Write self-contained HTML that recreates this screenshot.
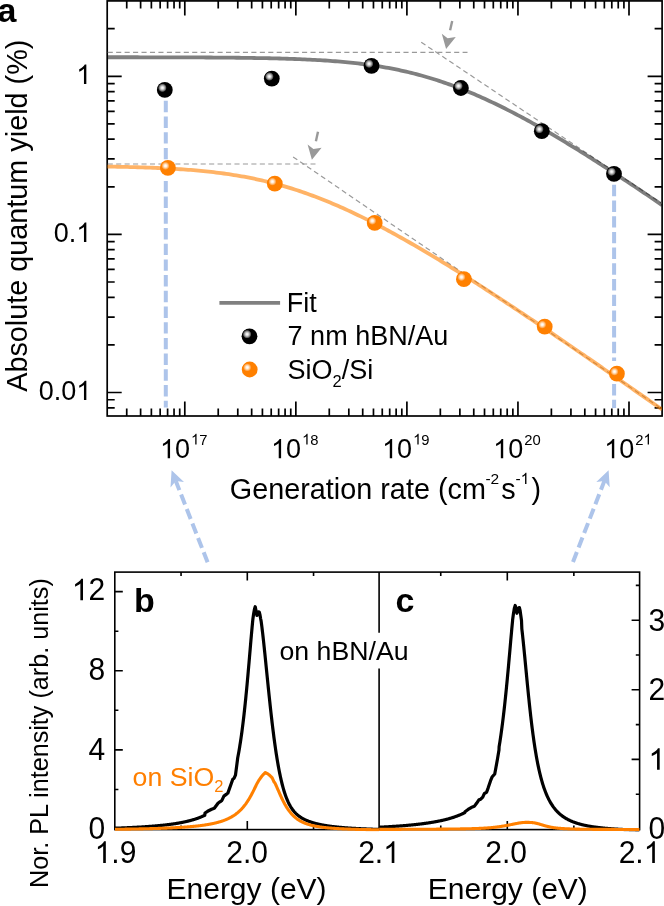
<!DOCTYPE html><html><head><meta charset="utf-8"><style>html,body{margin:0;padding:0;background:#fff;overflow:hidden}svg{display:block;will-change:transform}text{font-family:'Liberation Sans',sans-serif}</style></head><body>
<svg width="664" height="906" viewBox="0 0 664 906">
<defs>
<radialGradient id="hk" cx="0.5" cy="0.5" r="0.5">
<stop offset="0" stop-color="#ffffff"/><stop offset="0.25" stop-color="#e8e8e8"/><stop offset="0.55" stop-color="#a8a8a8"/><stop offset="0.8" stop-color="#5a5a5a"/><stop offset="1" stop-color="#000"/></radialGradient>
<radialGradient id="ho" cx="0.5" cy="0.5" r="0.5">
<stop offset="0" stop-color="#ffffff"/><stop offset="0.3" stop-color="#fff0e0"/><stop offset="0.6" stop-color="#ffc58a"/><stop offset="0.85" stop-color="#ff9a35"/><stop offset="1" stop-color="#ff8000"/></radialGradient>
</defs>
<rect width="664" height="906" fill="#fff"/>
<g stroke="#000" stroke-width="1.7" fill="none">
<rect x="107.2" y="0.9" width="554.9" height="415.1"/>
<path d="M126.73 416.00 V408.50 M126.73 0.90 V8.40 M140.61 416.00 V408.50 M140.61 0.90 V8.40 M151.37 416.00 V408.50 M151.37 0.90 V8.40 M160.16 416.00 V408.50 M160.16 0.90 V8.40 M167.60 416.00 V408.50 M167.60 0.90 V8.40 M174.04 416.00 V408.50 M174.04 0.90 V8.40 M179.72 416.00 V408.50 M179.72 0.90 V8.40 M184.80 416.00 V401.50 M184.80 0.90 V15.40 M218.23 416.00 V408.50 M218.23 0.90 V8.40 M237.78 416.00 V408.50 M237.78 0.90 V8.40 M251.66 416.00 V408.50 M251.66 0.90 V8.40 M262.42 416.00 V408.50 M262.42 0.90 V8.40 M271.21 416.00 V408.50 M271.21 0.90 V8.40 M278.65 416.00 V408.50 M278.65 0.90 V8.40 M285.09 416.00 V408.50 M285.09 0.90 V8.40 M290.77 416.00 V408.50 M290.77 0.90 V8.40 M295.85 416.00 V401.50 M295.85 0.90 V15.40 M329.28 416.00 V408.50 M329.28 0.90 V8.40 M348.83 416.00 V408.50 M348.83 0.90 V8.40 M362.71 416.00 V408.50 M362.71 0.90 V8.40 M373.47 416.00 V408.50 M373.47 0.90 V8.40 M382.26 416.00 V408.50 M382.26 0.90 V8.40 M389.70 416.00 V408.50 M389.70 0.90 V8.40 M396.14 416.00 V408.50 M396.14 0.90 V8.40 M401.82 416.00 V408.50 M401.82 0.90 V8.40 M406.90 416.00 V401.50 M406.90 0.90 V15.40 M440.33 416.00 V408.50 M440.33 0.90 V8.40 M459.88 416.00 V408.50 M459.88 0.90 V8.40 M473.76 416.00 V408.50 M473.76 0.90 V8.40 M484.52 416.00 V408.50 M484.52 0.90 V8.40 M493.31 416.00 V408.50 M493.31 0.90 V8.40 M500.75 416.00 V408.50 M500.75 0.90 V8.40 M507.19 416.00 V408.50 M507.19 0.90 V8.40 M512.87 416.00 V408.50 M512.87 0.90 V8.40 M517.95 416.00 V401.50 M517.95 0.90 V15.40 M551.38 416.00 V408.50 M551.38 0.90 V8.40 M570.93 416.00 V408.50 M570.93 0.90 V8.40 M584.81 416.00 V408.50 M584.81 0.90 V8.40 M595.57 416.00 V408.50 M595.57 0.90 V8.40 M604.36 416.00 V408.50 M604.36 0.90 V8.40 M611.80 416.00 V408.50 M611.80 0.90 V8.40 M618.24 416.00 V408.50 M618.24 0.90 V8.40 M623.92 416.00 V408.50 M623.92 0.90 V8.40 M629.00 416.00 V401.50 M629.00 0.90 V15.40 M107.20 407.82 H114.70 M662.10 407.82 H654.60 M107.20 399.73 H114.70 M662.10 399.73 H654.60 M107.20 392.50 H121.70 M662.10 392.50 H647.60 M107.20 344.91 H114.70 M662.10 344.91 H654.60 M107.20 317.07 H114.70 M662.10 317.07 H654.60 M107.20 297.31 H114.70 M662.10 297.31 H654.60 M107.20 281.99 H114.70 M662.10 281.99 H654.60 M107.20 269.47 H114.70 M662.10 269.47 H654.60 M107.20 258.89 H114.70 M662.10 258.89 H654.60 M107.20 249.72 H114.70 M662.10 249.72 H654.60 M107.20 241.63 H114.70 M662.10 241.63 H654.60 M107.20 234.40 H121.70 M662.10 234.40 H647.60 M107.20 186.81 H114.70 M662.10 186.81 H654.60 M107.20 158.97 H114.70 M662.10 158.97 H654.60 M107.20 139.21 H114.70 M662.10 139.21 H654.60 M107.20 123.89 H114.70 M662.10 123.89 H654.60 M107.20 111.37 H114.70 M662.10 111.37 H654.60 M107.20 100.79 H114.70 M662.10 100.79 H654.60 M107.20 91.62 H114.70 M662.10 91.62 H654.60 M107.20 83.53 H114.70 M662.10 83.53 H654.60 M107.20 76.30 H121.70 M662.10 76.30 H647.60 M107.20 28.71 H114.70 M662.10 28.71 H654.60"/>
</g>
<clipPath id="ca"><rect x="107.2" y="0.9" width="554.9" height="415.1"/></clipPath>
<g clip-path="url(#ca)">
<g stroke="#9a9a9a" stroke-width="1.2" stroke-dasharray="5.1 3.35" stroke-dashoffset="-0.5" fill="none">
<path d="M107.2 52.3 L467.5 52.3"/>
<path d="M420.8 41.9 L662 203.6"/>
<path d="M107.2 164.0 L315.5 164.0"/>
<path d="M292.7 156.6 L662 409.0"/>
</g>
<path d="M107.20 166.55 L109.73 166.59 L112.27 166.64 L114.80 166.69 L117.34 166.74 L119.87 166.79 L122.40 166.84 L124.94 166.90 L127.47 166.96 L130.00 167.03 L132.54 167.09 L135.07 167.16 L137.61 167.24 L140.14 167.32 L142.67 167.40 L145.21 167.48 L147.74 167.57 L150.27 167.67 L152.81 167.77 L155.34 167.87 L157.88 167.98 L160.41 168.09 L162.94 168.22 L165.48 168.34 L168.01 168.47 L170.54 168.61 L173.08 168.76 L175.61 168.91 L178.15 169.07 L180.68 169.23 L183.21 169.41 L185.75 169.59 L188.28 169.78 L190.82 169.98 L193.35 170.19 L195.88 170.41 L198.42 170.63 L200.95 170.87 L203.48 171.12 L206.02 171.37 L208.55 171.64 L211.09 171.92 L213.62 172.21 L216.15 172.52 L218.69 172.83 L221.22 173.16 L223.75 173.50 L226.29 173.86 L228.82 174.23 L231.36 174.61 L233.89 175.01 L236.42 175.42 L238.96 175.84 L241.49 176.28 L244.02 176.74 L246.56 177.21 L249.09 177.70 L251.63 178.21 L254.16 178.73 L256.69 179.27 L259.23 179.82 L261.76 180.40 L264.29 180.99 L266.83 181.59 L269.36 182.22 L271.90 182.86 L274.43 183.52 L276.96 184.20 L279.50 184.90 L282.03 185.61 L284.57 186.34 L287.10 187.10 L289.63 187.86 L292.17 188.65 L294.70 189.46 L297.23 190.28 L299.77 191.12 L302.30 191.98 L304.84 192.86 L307.37 193.76 L309.90 194.67 L312.44 195.60 L314.97 196.55 L317.50 197.52 L320.04 198.50 L322.57 199.50 L325.11 200.52 L327.64 201.55 L330.17 202.60 L332.71 203.67 L335.24 204.75 L337.77 205.85 L340.31 206.96 L342.84 208.09 L345.38 209.23 L347.91 210.39 L350.44 211.56 L352.98 212.75 L355.51 213.95 L358.05 215.17 L360.58 216.40 L363.11 217.64 L365.65 218.90 L368.18 220.17 L370.71 221.45 L373.25 222.74 L375.78 224.05 L378.32 225.36 L380.85 226.69 L383.38 228.04 L385.92 229.39 L388.45 230.75 L390.98 232.13 L393.52 233.51 L396.05 234.90 L398.59 236.31 L401.12 237.72 L403.65 239.15 L406.19 240.58 L408.72 242.02 L411.25 243.48 L413.79 244.94 L416.32 246.41 L418.86 247.88 L421.39 249.37 L423.92 250.86 L426.46 252.36 L428.99 253.87 L431.53 255.39 L434.06 256.91 L436.59 258.44 L439.13 259.98 L441.66 261.52 L444.19 263.08 L446.73 264.63 L449.26 266.20 L451.80 267.77 L454.33 269.34 L456.86 270.92 L459.40 272.51 L461.93 274.10 L464.46 275.70 L467.00 277.30 L469.53 278.91 L472.07 280.52 L474.60 282.14 L477.13 283.76 L479.67 285.39 L482.20 287.02 L484.73 288.66 L487.27 290.30 L489.80 291.94 L492.34 293.59 L494.87 295.25 L497.40 296.90 L499.94 298.56 L502.47 300.23 L505.01 301.89 L507.54 303.57 L510.07 305.24 L512.61 306.92 L515.14 308.60 L517.67 310.28 L520.21 311.97 L522.74 313.66 L525.28 315.35 L527.81 317.05 L530.34 318.75 L532.88 320.45 L535.41 322.15 L537.94 323.86 L540.48 325.57 L543.01 327.28 L545.55 328.99 L548.08 330.71 L550.61 332.43 L553.15 334.15 L555.68 335.87 L558.21 337.59 L560.75 339.32 L563.28 341.05 L565.82 342.78 L568.35 344.51 L570.88 346.25 L573.42 347.98 L575.95 349.72 L578.48 351.46 L581.02 353.20 L583.55 354.94 L586.09 356.69 L588.62 358.43 L591.15 360.18 L593.69 361.93 L596.22 363.68 L598.76 365.43 L601.29 367.18 L603.82 368.94 L606.36 370.69 L608.89 372.45 L611.42 374.20 L613.96 375.96 L616.49 377.72 L619.03 379.48 L621.56 381.25 L624.09 383.01 L626.63 384.77 L629.16 386.54 L631.69 388.30 L634.23 390.07 L636.76 391.84 L639.30 393.61 L641.83 395.38 L644.36 397.15 L646.90 398.92 L649.43 400.69 L651.96 402.46 L654.50 404.24 L657.03 406.01 L659.57 407.79 L662.10 409.56" fill="none" stroke="#ff8000" stroke-opacity="0.6" stroke-width="3.8"/>
<path d="M107.20 57.24 L109.73 57.24 L112.27 57.25 L114.80 57.25 L117.34 57.25 L119.87 57.25 L122.40 57.25 L124.94 57.26 L127.47 57.26 L130.00 57.26 L132.54 57.27 L135.07 57.27 L137.61 57.27 L140.14 57.28 L142.67 57.28 L145.21 57.28 L147.74 57.29 L150.27 57.29 L152.81 57.30 L155.34 57.30 L157.88 57.31 L160.41 57.31 L162.94 57.32 L165.48 57.33 L168.01 57.33 L170.54 57.34 L173.08 57.35 L175.61 57.36 L178.15 57.36 L180.68 57.37 L183.21 57.38 L185.75 57.39 L188.28 57.40 L190.82 57.41 L193.35 57.42 L195.88 57.43 L198.42 57.45 L200.95 57.46 L203.48 57.47 L206.02 57.49 L208.55 57.50 L211.09 57.52 L213.62 57.54 L216.15 57.56 L218.69 57.58 L221.22 57.60 L223.75 57.62 L226.29 57.64 L228.82 57.66 L231.36 57.69 L233.89 57.72 L236.42 57.74 L238.96 57.77 L241.49 57.80 L244.02 57.84 L246.56 57.87 L249.09 57.91 L251.63 57.94 L254.16 57.98 L256.69 58.03 L259.23 58.07 L261.76 58.12 L264.29 58.17 L266.83 58.22 L269.36 58.27 L271.90 58.33 L274.43 58.39 L276.96 58.45 L279.50 58.52 L282.03 58.59 L284.57 58.67 L287.10 58.74 L289.63 58.83 L292.17 58.91 L294.70 59.00 L297.23 59.10 L299.77 59.20 L302.30 59.30 L304.84 59.41 L307.37 59.53 L309.90 59.65 L312.44 59.78 L314.97 59.91 L317.50 60.05 L320.04 60.20 L322.57 60.35 L325.11 60.52 L327.64 60.69 L330.17 60.86 L332.71 61.05 L335.24 61.24 L337.77 61.45 L340.31 61.66 L342.84 61.88 L345.38 62.12 L347.91 62.36 L350.44 62.62 L352.98 62.88 L355.51 63.16 L358.05 63.45 L360.58 63.75 L363.11 64.06 L365.65 64.39 L368.18 64.73 L370.71 65.08 L373.25 65.45 L375.78 65.83 L378.32 66.23 L380.85 66.64 L383.38 67.07 L385.92 67.51 L388.45 67.97 L390.98 68.44 L393.52 68.94 L396.05 69.45 L398.59 69.97 L401.12 70.52 L403.65 71.08 L406.19 71.66 L408.72 72.25 L411.25 72.87 L413.79 73.50 L416.32 74.16 L418.86 74.83 L421.39 75.52 L423.92 76.23 L426.46 76.96 L428.99 77.70 L431.53 78.47 L434.06 79.25 L436.59 80.06 L439.13 80.88 L441.66 81.72 L444.19 82.59 L446.73 83.47 L449.26 84.36 L451.80 85.28 L454.33 86.22 L456.86 87.17 L459.40 88.15 L461.93 89.14 L464.46 90.15 L467.00 91.17 L469.53 92.22 L472.07 93.28 L474.60 94.36 L477.13 95.45 L479.67 96.56 L482.20 97.69 L484.73 98.84 L487.27 100.00 L489.80 101.17 L492.34 102.37 L494.87 103.57 L497.40 104.80 L499.94 106.03 L502.47 107.28 L505.01 108.55 L507.54 109.83 L510.07 111.12 L512.61 112.43 L515.14 113.75 L517.67 115.08 L520.21 116.42 L522.74 117.78 L525.28 119.15 L527.81 120.53 L530.34 121.92 L532.88 123.33 L535.41 124.74 L537.94 126.17 L540.48 127.60 L543.01 129.05 L545.55 130.50 L548.08 131.97 L550.61 133.45 L553.15 134.93 L555.68 136.43 L558.21 137.93 L560.75 139.44 L563.28 140.96 L565.82 142.49 L568.35 144.03 L570.88 145.57 L573.42 147.13 L575.95 148.69 L578.48 150.25 L581.02 151.83 L583.55 153.41 L586.09 155.00 L588.62 156.59 L591.15 158.20 L593.69 159.80 L596.22 161.42 L598.76 163.04 L601.29 164.66 L603.82 166.30 L606.36 167.93 L608.89 169.58 L611.42 171.22 L613.96 172.88 L616.49 174.54 L619.03 176.20 L621.56 177.87 L624.09 179.54 L626.63 181.22 L629.16 182.90 L631.69 184.58 L634.23 186.27 L636.76 187.97 L639.30 189.67 L641.83 191.37 L644.36 193.07 L646.90 194.78 L649.43 196.49 L651.96 198.21 L654.50 199.93 L657.03 201.65 L659.57 203.38 L662.10 205.11" fill="none" stroke="#000" stroke-opacity="0.5" stroke-width="3.8"/>
</g>
<g stroke="#adc4ea" stroke-width="4" stroke-dasharray="11.4 4.3" fill="none">
<path d="M165.8 100.8 L165.8 160"/>
<path d="M165.8 180.9 L165.8 407.4"/>
<path d="M614.1 184.8 L614.1 361"/>
<path d="M614.1 384.1 L614.1 408"/>
</g>
<g transform="translate(0.0 0.0)"><path d="M452.2 20.9 L450.1 30.3" stroke="#999" stroke-width="2.4" fill="none"/><path d="M446.1 48.9 L441.8 33.7 L447.6 38.2 L455.8 36.9 Z" fill="#999"/></g>
<g transform="translate(-134.2 110.9)"><path d="M452.2 20.9 L450.1 30.3" stroke="#999" stroke-width="2.4" fill="none"/><path d="M446.1 48.9 L441.8 33.7 L447.6 38.2 L455.8 36.9 Z" fill="#999"/></g>
<circle cx="164.8" cy="89.9" r="7.9" fill="#000"/><circle cx="162.4" cy="87.8" r="4.4" fill="url(#hk)"/>
<circle cx="271.8" cy="78.6" r="7.9" fill="#000"/><circle cx="269.4" cy="76.5" r="4.4" fill="url(#hk)"/>
<circle cx="371.5" cy="65.8" r="7.9" fill="#000"/><circle cx="369.1" cy="63.7" r="4.4" fill="url(#hk)"/>
<circle cx="460.9" cy="88.0" r="7.9" fill="#000"/><circle cx="458.5" cy="85.9" r="4.4" fill="url(#hk)"/>
<circle cx="541.8" cy="131.2" r="7.9" fill="#000"/><circle cx="539.4" cy="129.1" r="4.4" fill="url(#hk)"/>
<circle cx="614.0" cy="173.8" r="7.9" fill="#000"/><circle cx="611.6" cy="171.7" r="4.4" fill="url(#hk)"/>
<circle cx="167.9" cy="167.9" r="7.9" fill="#ff8000"/><circle cx="165.5" cy="165.8" r="4.1" fill="url(#ho)"/>
<circle cx="274.8" cy="183.7" r="7.9" fill="#ff8000"/><circle cx="272.4" cy="181.6" r="4.1" fill="url(#ho)"/>
<circle cx="374.7" cy="222.9" r="7.9" fill="#ff8000"/><circle cx="372.3" cy="220.8" r="4.1" fill="url(#ho)"/>
<circle cx="463.9" cy="279.2" r="7.9" fill="#ff8000"/><circle cx="461.5" cy="277.1" r="4.1" fill="url(#ho)"/>
<circle cx="544.7" cy="326.7" r="7.9" fill="#ff8000"/><circle cx="542.3" cy="324.6" r="4.1" fill="url(#ho)"/>
<circle cx="616.9" cy="373.7" r="7.9" fill="#ff8000"/><circle cx="614.5" cy="371.6" r="4.1" fill="url(#ho)"/>
<text transform="translate(91.30 83.90) scale(1 1.040)" font-size="27" text-anchor="end"> </text>
<text transform="translate(91.30 242.00) scale(1 1.040)" font-size="27" text-anchor="end">0. </text>
<text transform="translate(91.30 400.10) scale(1 1.040)" font-size="27" text-anchor="end">0.0 </text>
<text transform="translate(160.00 458.30) scale(1 1.040)" font-size="27"> 0<tspan font-size="14.8" dx="1.0" dy="-13.27"> 7</tspan></text>
<text transform="translate(271.05 458.30) scale(1 1.040)" font-size="27"> 0<tspan font-size="14.8" dx="1.0" dy="-13.27"> 8</tspan></text>
<text transform="translate(382.10 458.30) scale(1 1.040)" font-size="27"> 0<tspan font-size="14.8" dx="1.0" dy="-13.27"> 9</tspan></text>
<text transform="translate(493.15 458.30) scale(1 1.040)" font-size="27"> 0<tspan font-size="14.8" dx="1.0" dy="-13.27">20</tspan></text>
<text transform="translate(604.20 458.30) scale(1 1.040)" font-size="27"> 0<tspan font-size="14.8" dx="1.0" dy="-13.27">2 </tspan></text>
<text transform="translate(229.80 499.20) scale(1 1.000)" font-size="28.8">Generation rate (cm<tspan x="255.60" font-size="15.5" dy="-15.30">-2</tspan><tspan x="271.40" dy="15.30">s</tspan><tspan x="285.70" font-size="15.5" dy="-15.30">- </tspan><tspan x="301.80" dy="15.30">)</tspan></text>
<text transform="translate(27.0 391.8) rotate(-90)" font-size="28.8">Absolute quantum yield (%)</text>
<text transform="translate(-2.40 21.90) scale(1 1.000)" font-size="34" font-weight="bold">a</text>
<path d="M219.4 302.9 H280.1" stroke="#808080" stroke-width="3.6"/>
<circle cx="249.5" cy="336.3" r="7.9" fill="#000"/><circle cx="247.1" cy="334.2" r="4.4" fill="url(#hk)"/>
<circle cx="249.7" cy="369.5" r="7.9" fill="#ff8000"/><circle cx="247.3" cy="367.4" r="4.1" fill="url(#ho)"/>
<text transform="translate(286.80 312.00) scale(1 1.000)" font-size="27">Fit</text>
<text transform="translate(287.60 344.90) scale(1 1.000)" font-size="27">7 nm hBN/Au</text>
<text transform="translate(287.60 378.50) scale(1 1.000)" font-size="27">SiO<tspan font-size="16.5" dy="8.80">2</tspan><tspan dy="-8.80">/Si</tspan></text>
<path d="M207.6 562.3 L175.8 481.0" stroke="#adc4ea" stroke-width="4" stroke-dasharray="10.7 4.8" fill="none"/><path d="M171.6 470.3 L184.0 482.1 L175.8 481.0 L170.5 487.4 Z" fill="#adc4ea"/>
<path d="M573.0 562.0 L604.4 480.9" stroke="#adc4ea" stroke-width="4" stroke-dasharray="10.7 4.8" fill="none"/><path d="M608.6 470.2 L609.7 487.3 L604.4 480.9 L596.3 482.0 Z" fill="#adc4ea"/>
<g stroke="#000" stroke-width="1.6" fill="none">
<rect x="114.8" y="572.1" width="524.8" height="257.5"/>
<path d="M379.1 572.1 V632.7 M379.1 668.5 V829.6"/>
<path d="M181.05 829.60 V825.60 M181.05 572.10 V576.10 M440.75 829.60 V825.60 M440.75 572.10 V576.10 M247.30 829.60 V821.10 M247.30 572.10 V580.60 M507.30 829.60 V821.10 M507.30 572.10 V580.60 M313.55 829.60 V825.60 M313.55 572.10 V576.10 M573.85 829.60 V825.60 M573.85 572.10 V576.10 M114.80 789.44 H118.40 M114.80 749.88 H122.80 M114.80 710.32 H118.40 M114.80 670.76 H122.80 M114.80 631.20 H118.40 M114.80 591.64 H122.80 M639.60 794.20 H635.80 M639.60 759.40 H631.60 M639.60 724.60 H635.80 M639.60 689.80 H631.60 M639.60 655.00 H635.80 M639.60 620.20 H631.60 M639.60 585.40 H635.80"/>
</g>
<clipPath id="cb"><rect x="114.8" y="572.1" width="264.3" height="259.5"/></clipPath>
<clipPath id="cc"><rect x="379.1" y="572.1" width="260.5" height="259.5"/></clipPath>
<g clip-path="url(#cb)" fill="none" stroke-width="3.2" stroke-linejoin="round">
<path d="M114.80 828.22 L115.18 828.21 L115.56 828.19 L115.93 828.18 L116.31 828.17 L116.69 828.15 L117.07 828.14 L117.45 828.12 L117.82 828.11 L118.20 828.10 L118.58 828.08 L118.96 828.07 L119.34 828.05 L119.72 828.04 L120.09 828.02 L120.47 828.01 L120.85 827.99 L121.23 827.98 L121.61 827.96 L121.98 827.95 L122.36 827.93 L122.74 827.92 L123.12 827.90 L123.50 827.88 L123.87 827.87 L124.25 827.85 L124.63 827.84 L125.01 827.82 L125.39 827.80 L125.77 827.79 L126.14 827.77 L126.52 827.75 L126.90 827.74 L127.28 827.72 L127.66 827.70 L128.03 827.69 L128.41 827.67 L128.79 827.65 L129.17 827.63 L129.55 827.61 L129.92 827.60 L130.30 827.58 L130.68 827.56 L131.06 827.54 L131.44 827.52 L131.82 827.50 L132.19 827.49 L132.57 827.47 L132.95 827.45 L133.33 827.43 L133.71 827.41 L134.08 827.39 L134.46 827.37 L134.84 827.35 L135.22 827.33 L135.60 827.31 L135.97 827.29 L136.35 827.27 L136.73 827.25 L137.11 827.22 L137.49 827.20 L137.86 827.18 L138.24 827.16 L138.62 827.14 L139.00 827.12 L139.38 827.09 L139.76 827.07 L140.13 827.05 L140.51 827.03 L140.89 827.00 L141.27 826.98 L141.65 826.96 L142.02 826.93 L142.40 826.91 L142.78 826.88 L143.16 826.86 L143.54 826.84 L143.91 826.81 L144.29 826.79 L144.67 826.76 L145.05 826.74 L145.43 826.71 L145.81 826.68 L146.18 826.66 L146.56 826.63 L146.94 826.61 L147.32 826.58 L147.70 826.55 L148.07 826.52 L148.45 826.50 L148.83 826.47 L149.21 826.44 L149.59 826.41 L149.96 826.38 L150.34 826.36 L150.72 826.33 L151.10 826.30 L151.48 826.27 L151.85 826.24 L152.23 826.21 L152.61 826.18 L152.99 826.14 L153.37 826.11 L153.75 826.08 L154.12 826.05 L154.50 826.02 L154.88 825.99 L155.26 825.95 L155.64 825.92 L156.01 825.89 L156.39 825.85 L156.77 825.82 L157.15 825.78 L157.53 825.75 L157.90 825.71 L158.28 825.68 L158.66 825.64 L159.04 825.61 L159.42 825.57 L159.80 825.53 L160.17 825.50 L160.55 825.46 L160.93 825.42 L161.31 825.38 L161.69 825.34 L162.06 825.30 L162.44 825.26 L162.82 825.22 L163.20 825.18 L163.58 825.14 L163.95 825.10 L164.33 825.06 L164.71 825.01 L165.09 824.97 L165.47 824.93 L165.85 824.88 L166.22 824.84 L166.60 824.80 L166.98 824.75 L167.36 824.70 L167.74 824.66 L168.11 824.61 L168.49 824.56 L168.87 824.52 L169.25 824.47 L169.63 824.42 L170.00 824.37 L170.38 824.32 L170.76 824.27 L171.14 824.22 L171.52 824.16 L171.89 824.11 L172.27 824.06 L172.65 824.00 L173.03 823.95 L173.41 823.89 L173.79 823.84 L174.16 823.78 L174.54 823.72 L174.92 823.67 L175.30 823.61 L175.68 823.55 L176.05 823.49 L176.43 823.43 L176.81 823.37 L177.19 823.30 L177.57 823.24 L177.94 823.18 L178.32 823.11 L178.70 823.05 L179.08 822.98 L179.46 822.91 L179.84 822.84 L180.21 822.77 L180.59 822.70 L180.97 822.63 L181.35 822.56 L181.73 822.49 L182.10 822.42 L182.48 822.34 L182.86 822.26 L183.24 822.19 L183.62 822.11 L183.99 822.03 L184.37 821.95 L184.75 821.87 L185.13 821.79 L185.51 821.71 L185.88 821.62 L186.26 821.54 L186.64 821.45 L187.02 821.36 L187.40 821.27 L187.78 821.18 L188.15 821.09 L188.53 821.00 L188.91 820.90 L189.29 820.80 L189.67 820.71 L190.04 820.61 L190.42 820.51 L190.80 820.41 L191.18 820.30 L191.56 820.20 L191.93 820.09 L192.31 819.98 L192.69 819.87 L193.07 819.76 L193.45 819.65 L193.83 819.54 L194.20 819.42 L194.58 819.30 L194.96 819.18 L195.34 819.06 L195.72 818.93 L196.09 818.81 L196.47 818.68 L196.85 818.55 L197.23 818.42 L197.61 818.28 L197.98 818.15 L198.36 818.01 L198.74 817.87 L199.12 817.72 L199.50 817.58 L199.88 817.43 L200.25 817.28 L200.63 817.12 L201.01 816.97 L201.39 816.81 L201.77 816.65 L202.14 816.48 L202.52 816.31 L202.90 816.14 L203.28 815.97 L203.66 815.79 L204.03 815.61 L204.41 815.43 L204.79 815.24 L205.00 813.00 L207.60 811.30 L211.60 809.30 L214.30 808.30 L218.20 803.00 L220.20 801.70 L221.90 800.40 L223.90 796.10 L226.20 794.40 L227.85 793.10 L232.80 779.20 L234.14 778.20 L235.46 775.20 L237.45 760.00 L237.69 758.03 L238.06 756.06 L238.44 754.02 L238.82 751.91 L239.20 749.72 L239.58 747.46 L239.95 745.12 L240.33 742.70 L240.71 740.20 L241.09 737.61 L241.47 734.94 L241.85 732.18 L242.22 729.34 L242.60 726.40 L242.98 723.37 L243.36 720.24 L243.74 717.02 L244.11 713.71 L244.49 710.30 L244.87 706.79 L245.25 703.19 L245.63 699.50 L246.00 695.71 L246.38 691.84 L246.76 687.87 L247.14 683.82 L247.52 679.70 L247.90 675.50 L248.27 671.23 L248.65 666.91 L249.03 662.54 L249.41 658.14 L249.79 653.71 L250.16 649.28 L250.54 644.86 L250.92 640.47 L251.30 636.14 L251.68 631.89 L252.05 627.76 L252.43 623.76 L252.81 619.95 L252.90 619.00 L253.60 614.00 L254.40 609.50 L255.20 606.70 L256.00 610.50 L256.90 615.50 L257.80 613.50 L258.60 611.80 L259.30 612.20 L260.00 615.00 L260.70 619.00 L261.13 621.14 L261.51 623.95 L261.89 626.90 L262.26 629.98 L262.64 633.17 L263.02 636.47 L263.40 639.86 L263.78 643.34 L264.15 646.88 L264.53 650.49 L264.91 654.15 L265.29 657.84 L265.67 661.57 L266.04 665.31 L266.42 669.07 L266.80 672.83 L267.18 676.59 L267.56 680.33 L267.94 684.06 L268.31 687.76 L268.69 691.44 L269.07 695.08 L269.45 698.68 L269.83 702.24 L270.20 705.75 L270.58 709.22 L270.96 712.62 L271.34 715.98 L271.72 719.27 L272.09 722.50 L272.47 725.67 L272.85 728.77 L273.23 731.81 L273.61 734.79 L273.98 737.69 L274.36 740.53 L274.74 743.30 L275.12 746.00 L275.50 748.63 L275.88 751.19 L276.25 753.68 L276.63 756.11 L277.01 758.46 L277.39 760.75 L277.77 762.97 L278.14 765.13 L278.52 767.22 L278.90 769.24 L279.28 771.21 L279.66 773.10 L280.03 774.94 L280.41 776.72 L280.79 778.44 L281.17 780.10 L281.55 781.70 L281.93 783.25 L282.30 784.74 L282.68 786.18 L283.06 787.57 L283.44 788.91 L283.82 790.20 L284.19 791.45 L284.57 792.64 L284.95 793.80 L285.33 794.91 L285.71 795.98 L286.08 797.00 L286.46 797.99 L286.84 798.94 L287.22 799.86 L287.60 800.74 L287.98 801.58 L288.35 802.40 L288.73 803.18 L289.11 803.93 L289.49 804.65 L289.87 805.35 L290.24 806.02 L290.62 806.66 L291.00 807.28 L291.38 807.87 L291.76 808.44 L292.13 808.99 L292.51 809.52 L292.89 810.03 L293.27 810.52 L293.65 810.99 L294.02 811.45 L294.40 811.88 L294.78 812.31 L295.16 812.71 L295.54 813.11 L295.92 813.49 L296.29 813.85 L296.67 814.20 L297.05 814.55 L297.43 814.87 L297.81 815.19 L298.18 815.50 L298.56 815.80 L298.94 816.09 L299.32 816.37 L299.70 816.64 L300.07 816.90 L300.45 817.16 L300.83 817.40 L301.21 817.64 L301.59 817.88 L301.97 818.10 L302.34 818.32 L302.72 818.54 L303.10 818.75 L303.48 818.95 L303.86 819.15 L304.23 819.34 L304.61 819.52 L304.99 819.71 L305.37 819.88 L305.75 820.06 L306.12 820.23 L306.50 820.39 L306.88 820.55 L307.26 820.71 L307.64 820.86 L308.02 821.01 L308.39 821.16 L308.77 821.31 L309.15 821.45 L309.53 821.58 L309.91 821.72 L310.28 821.85 L310.66 821.98 L311.04 822.10 L311.42 822.23 L311.80 822.35 L312.17 822.47 L312.55 822.58 L312.93 822.70 L313.31 822.81 L313.69 822.92 L314.06 823.03 L314.44 823.13 L314.82 823.24 L315.20 823.34 L315.58 823.44 L315.96 823.53 L316.33 823.63 L316.71 823.72 L317.09 823.82 L317.47 823.91 L317.85 824.00 L318.22 824.08 L318.60 824.17 L318.98 824.25 L319.36 824.34 L319.74 824.42 L320.11 824.50 L320.49 824.58 L320.87 824.65 L321.25 824.73 L321.63 824.81 L322.01 824.88 L322.38 824.95 L322.76 825.02 L323.14 825.09 L323.52 825.16 L323.90 825.23 L324.27 825.29 L324.65 825.36 L325.03 825.42 L325.41 825.49 L325.79 825.55 L326.16 825.61 L326.54 825.67 L326.92 825.73 L327.30 825.79 L327.68 825.85 L328.05 825.90 L328.43 825.96 L328.81 826.02 L329.19 826.07 L329.57 826.12 L329.95 826.17 L330.32 826.23 L330.70 826.28 L331.08 826.33 L331.46 826.38 L331.84 826.43 L332.21 826.47 L332.59 826.52 L332.97 826.57 L333.35 826.61 L333.73 826.66 L334.10 826.70 L334.48 826.75 L334.86 826.79 L335.24 826.83 L335.62 826.88 L336.00 826.92 L336.37 826.96 L336.75 827.00 L337.13 827.04 L337.51 827.08 L337.89 827.12 L338.26 827.15 L338.64 827.19 L339.02 827.23 L339.40 827.26 L339.78 827.30 L340.15 827.34 L340.53 827.37 L340.91 827.41 L341.29 827.44 L341.67 827.47 L342.05 827.51 L342.42 827.54 L342.80 827.57 L343.18 827.60 L343.56 827.64 L343.94 827.67 L344.31 827.70 L344.69 827.73 L345.07 827.76 L345.45 827.79 L345.83 827.82 L346.20 827.85 L346.58 827.88 L346.96 827.90 L347.34 827.93 L347.72 827.96 L348.09 827.99 L348.47 828.01 L348.85 828.04 L349.23 828.06 L349.61 828.09 L349.99 828.12 L350.36 828.14 L350.74 828.17 L351.12 828.19 L351.50 828.22 L351.88 828.24 L352.25 828.26 L352.63 828.29 L353.01 828.31 L353.39 828.33 L353.77 828.35 L354.14 828.38 L354.52 828.40 L354.90 828.42 L355.28 828.44 L355.66 828.46 L356.04 828.49 L356.41 828.51 L356.79 828.53 L357.17 828.55 L357.55 828.57 L357.93 828.59 L358.30 828.61 L358.68 828.63 L359.06 828.65 L359.44 828.66 L359.82 828.68 L360.19 828.70 L360.57 828.72 L360.95 828.74 L361.33 828.76 L361.71 828.77 L362.08 828.79 L362.46 828.81 L362.84 828.83 L363.22 828.84 L363.60 828.86 L363.98 828.88 L364.35 828.89 L364.73 828.91 L365.11 828.93 L365.49 828.94 L365.87 828.96 L366.24 828.97 L366.62 828.99 L367.00 829.00 L367.38 829.02 L367.76 829.03 L368.13 829.05 L368.51 829.06 L368.89 829.08 L369.27 829.09 L369.65 829.11 L370.03 829.12 L370.40 829.14 L370.78 829.15 L371.16 829.16 L371.54 829.18 L371.92 829.19 L372.29 829.20 L372.67 829.22 L373.05 829.23 L373.43 829.24 L373.81 829.26 L374.18 829.27 L374.56 829.28 L374.94 829.29 L375.32 829.31 L375.70 829.32 L376.08 829.33 L376.45 829.34 L376.83 829.35 L377.21 829.36 L377.59 829.38 L377.97 829.39 L378.34 829.40 L378.72 829.41 L379.10 829.42" stroke="#000"/>
<path d="M114.80 829.32 L115.18 829.32 L115.56 829.31 L115.93 829.31 L116.31 829.30 L116.69 829.30 L117.07 829.29 L117.45 829.29 L117.82 829.28 L118.20 829.28 L118.58 829.27 L118.96 829.26 L119.34 829.26 L119.72 829.25 L120.09 829.25 L120.47 829.24 L120.85 829.24 L121.23 829.23 L121.61 829.23 L121.98 829.22 L122.36 829.22 L122.74 829.21 L123.12 829.20 L123.50 829.20 L123.87 829.19 L124.25 829.19 L124.63 829.18 L125.01 829.17 L125.39 829.17 L125.77 829.16 L126.14 829.16 L126.52 829.15 L126.90 829.14 L127.28 829.14 L127.66 829.13 L128.03 829.13 L128.41 829.12 L128.79 829.11 L129.17 829.11 L129.55 829.10 L129.92 829.09 L130.30 829.09 L130.68 829.08 L131.06 829.07 L131.44 829.07 L131.82 829.06 L132.19 829.05 L132.57 829.05 L132.95 829.04 L133.33 829.03 L133.71 829.02 L134.08 829.02 L134.46 829.01 L134.84 829.00 L135.22 829.00 L135.60 828.99 L135.97 828.98 L136.35 828.97 L136.73 828.97 L137.11 828.96 L137.49 828.95 L137.86 828.94 L138.24 828.93 L138.62 828.93 L139.00 828.92 L139.38 828.91 L139.76 828.90 L140.13 828.89 L140.51 828.89 L140.89 828.88 L141.27 828.87 L141.65 828.86 L142.02 828.85 L142.40 828.84 L142.78 828.83 L143.16 828.83 L143.54 828.82 L143.91 828.81 L144.29 828.80 L144.67 828.79 L145.05 828.78 L145.43 828.77 L145.81 828.76 L146.18 828.75 L146.56 828.74 L146.94 828.73 L147.32 828.72 L147.70 828.71 L148.07 828.71 L148.45 828.70 L148.83 828.69 L149.21 828.68 L149.59 828.67 L149.96 828.65 L150.34 828.64 L150.72 828.63 L151.10 828.62 L151.48 828.61 L151.85 828.60 L152.23 828.59 L152.61 828.58 L152.99 828.57 L153.37 828.56 L153.75 828.55 L154.12 828.54 L154.50 828.52 L154.88 828.51 L155.26 828.50 L155.64 828.49 L156.01 828.48 L156.39 828.47 L156.77 828.45 L157.15 828.44 L157.53 828.43 L157.90 828.42 L158.28 828.40 L158.66 828.39 L159.04 828.38 L159.42 828.37 L159.80 828.35 L160.17 828.34 L160.55 828.33 L160.93 828.31 L161.31 828.30 L161.69 828.29 L162.06 828.27 L162.44 828.26 L162.82 828.24 L163.20 828.23 L163.58 828.21 L163.95 828.20 L164.33 828.19 L164.71 828.17 L165.09 828.16 L165.47 828.14 L165.85 828.13 L166.22 828.11 L166.60 828.09 L166.98 828.08 L167.36 828.06 L167.74 828.05 L168.11 828.03 L168.49 828.01 L168.87 828.00 L169.25 827.98 L169.63 827.96 L170.00 827.95 L170.38 827.93 L170.76 827.91 L171.14 827.89 L171.52 827.88 L171.89 827.86 L172.27 827.84 L172.65 827.82 L173.03 827.80 L173.41 827.78 L173.79 827.76 L174.16 827.74 L174.54 827.72 L174.92 827.70 L175.30 827.68 L175.68 827.66 L176.05 827.64 L176.43 827.62 L176.81 827.60 L177.19 827.58 L177.57 827.56 L177.94 827.54 L178.32 827.52 L178.70 827.49 L179.08 827.47 L179.46 827.45 L179.84 827.43 L180.21 827.40 L180.59 827.38 L180.97 827.35 L181.35 827.33 L181.73 827.31 L182.10 827.28 L182.48 827.26 L182.86 827.23 L183.24 827.21 L183.62 827.18 L183.99 827.15 L184.37 827.13 L184.75 827.10 L185.13 827.07 L185.51 827.04 L185.88 827.02 L186.26 826.99 L186.64 826.96 L187.02 826.93 L187.40 826.90 L187.78 826.87 L188.15 826.84 L188.53 826.81 L188.91 826.78 L189.29 826.75 L189.67 826.72 L190.04 826.68 L190.42 826.65 L190.80 826.62 L191.18 826.59 L191.56 826.55 L191.93 826.52 L192.31 826.48 L192.69 826.45 L193.07 826.41 L193.45 826.37 L193.83 826.34 L194.20 826.30 L194.58 826.26 L194.96 826.22 L195.34 826.19 L195.72 826.15 L196.09 826.11 L196.47 826.07 L196.85 826.02 L197.23 825.98 L197.61 825.94 L197.98 825.90 L198.36 825.85 L198.74 825.81 L199.12 825.76 L199.50 825.72 L199.88 825.67 L200.25 825.63 L200.63 825.58 L201.01 825.53 L201.39 825.48 L201.77 825.43 L202.14 825.38 L202.52 825.33 L202.90 825.28 L203.28 825.22 L203.66 825.17 L204.03 825.12 L204.41 825.06 L204.79 825.00 L205.17 824.95 L205.55 824.89 L205.92 824.83 L206.30 824.77 L206.68 824.71 L207.06 824.65 L207.44 824.58 L207.82 824.52 L208.19 824.45 L208.57 824.39 L208.95 824.32 L209.33 824.25 L209.71 824.18 L210.08 824.11 L210.46 824.04 L210.84 823.97 L211.22 823.89 L211.60 823.82 L211.97 823.74 L212.35 823.66 L212.73 823.58 L213.11 823.50 L213.49 823.42 L213.87 823.34 L214.24 823.25 L214.62 823.16 L215.00 823.07 L215.38 822.98 L215.76 822.89 L216.13 822.80 L216.51 822.70 L216.89 822.61 L217.27 822.51 L217.65 822.41 L218.02 822.31 L218.40 822.20 L218.78 822.09 L219.16 821.99 L219.54 821.88 L219.92 821.76 L220.29 821.65 L220.67 821.53 L221.05 821.41 L221.43 821.29 L221.81 821.16 L222.18 821.04 L222.56 820.91 L222.94 820.78 L223.32 820.64 L223.70 820.51 L224.07 820.37 L224.45 820.22 L224.83 820.08 L225.21 819.93 L225.59 819.78 L225.96 819.62 L226.34 819.46 L226.72 819.30 L227.10 819.13 L227.48 818.97 L227.86 818.79 L228.23 818.62 L228.61 818.44 L228.99 818.25 L229.37 818.06 L229.75 817.87 L230.12 817.68 L230.50 817.47 L230.88 817.27 L231.26 817.06 L231.64 816.84 L232.01 816.62 L232.39 816.40 L232.77 816.17 L233.15 815.94 L233.53 815.69 L233.91 815.45 L234.28 815.20 L234.66 814.94 L235.04 814.68 L235.42 814.41 L235.80 814.13 L236.17 813.85 L236.55 813.56 L236.93 813.26 L237.31 812.96 L237.69 812.65 L238.06 812.33 L238.44 812.00 L238.82 811.67 L239.20 811.33 L239.58 810.98 L239.95 810.62 L240.33 810.25 L240.71 809.88 L241.09 809.49 L241.47 809.10 L241.85 808.69 L242.22 808.28 L242.60 807.86 L242.98 807.42 L243.36 806.98 L243.74 806.52 L244.11 806.06 L244.49 805.58 L244.87 805.10 L245.25 804.60 L245.63 804.09 L246.00 803.56 L246.38 803.03 L246.76 802.48 L247.14 801.93 L247.52 801.35 L247.90 800.77 L248.27 800.18 L248.65 799.57 L249.03 798.95 L249.41 798.32 L249.79 797.67 L250.16 797.01 L250.54 796.35 L250.92 795.67 L251.30 794.97 L251.68 794.27 L252.05 793.56 L252.43 792.83 L252.81 792.10 L253.19 791.35 L253.57 790.60 L253.95 789.84 L254.32 789.08 L254.70 788.30 L255.08 787.53 L255.46 786.75 L255.84 785.97 L256.21 785.19 L256.59 784.41 L256.97 783.63 L257.20 783.20 L259.20 779.80 L261.60 776.50 L263.50 774.30 L265.40 772.50 L267.30 773.60 L269.30 775.00 L271.00 776.60 L272.20 777.90 L274.10 782.20 L274.74 782.55 L275.12 783.35 L275.50 784.16 L275.88 784.99 L276.25 785.83 L276.63 786.68 L277.01 787.53 L277.39 788.40 L277.77 789.26 L278.14 790.13 L278.52 790.99 L278.90 791.86 L279.28 792.72 L279.66 793.57 L280.03 794.42 L280.41 795.26 L280.79 796.09 L281.17 796.91 L281.55 797.72 L281.93 798.52 L282.30 799.31 L282.68 800.08 L283.06 800.83 L283.44 801.58 L283.82 802.31 L284.19 803.02 L284.57 803.72 L284.95 804.40 L285.33 805.07 L285.71 805.72 L286.08 806.35 L286.46 806.97 L286.84 807.58 L287.22 808.17 L287.60 808.74 L287.98 809.30 L288.35 809.84 L288.73 810.37 L289.11 810.89 L289.49 811.39 L289.87 811.88 L290.24 812.35 L290.62 812.81 L291.00 813.26 L291.38 813.69 L291.76 814.11 L292.13 814.52 L292.51 814.92 L292.89 815.31 L293.27 815.68 L293.65 816.05 L294.02 816.40 L294.40 816.75 L294.78 817.08 L295.16 817.40 L295.54 817.72 L295.92 818.02 L296.29 818.32 L296.67 818.61 L297.05 818.89 L297.43 819.16 L297.81 819.42 L298.18 819.68 L298.56 819.92 L298.94 820.17 L299.32 820.40 L299.70 820.63 L300.07 820.85 L300.45 821.06 L300.83 821.27 L301.21 821.47 L301.59 821.67 L301.97 821.86 L302.34 822.04 L302.72 822.23 L303.10 822.40 L303.48 822.57 L303.86 822.74 L304.23 822.90 L304.61 823.05 L304.99 823.21 L305.37 823.35 L305.75 823.50 L306.12 823.64 L306.50 823.77 L306.88 823.91 L307.26 824.04 L307.64 824.16 L308.02 824.28 L308.39 824.40 L308.77 824.52 L309.15 824.63 L309.53 824.74 L309.91 824.85 L310.28 824.95 L310.66 825.06 L311.04 825.16 L311.42 825.25 L311.80 825.35 L312.17 825.44 L312.55 825.53 L312.93 825.62 L313.31 825.70 L313.69 825.78 L314.06 825.86 L314.44 825.94 L314.82 826.02 L315.20 826.10 L315.58 826.17 L315.96 826.24 L316.33 826.31 L316.71 826.38 L317.09 826.45 L317.47 826.51 L317.85 826.58 L318.22 826.64 L318.60 826.70 L318.98 826.76 L319.36 826.82 L319.74 826.88 L320.11 826.93 L320.49 826.99 L320.87 827.04 L321.25 827.09 L321.63 827.15 L322.01 827.20 L322.38 827.24 L322.76 827.29 L323.14 827.34 L323.52 827.39 L323.90 827.43 L324.27 827.48 L324.65 827.52 L325.03 827.56 L325.41 827.60 L325.79 827.64 L326.16 827.68 L326.54 827.72 L326.92 827.76 L327.30 827.80 L327.68 827.84 L328.05 827.87 L328.43 827.91 L328.81 827.94 L329.19 827.98 L329.57 828.01 L329.95 828.04 L330.32 828.07 L330.70 828.11 L331.08 828.14 L331.46 828.17 L331.84 828.20 L332.21 828.23 L332.59 828.25 L332.97 828.28 L333.35 828.31 L333.73 828.34 L334.10 828.36 L334.48 828.39 L334.86 828.42 L335.24 828.44 L335.62 828.47 L336.00 828.49 L336.37 828.52 L336.75 828.54 L337.13 828.56 L337.51 828.58 L337.89 828.61 L338.26 828.63 L338.64 828.65 L339.02 828.67 L339.40 828.69 L339.78 828.71 L340.15 828.73 L340.53 828.75 L340.91 828.77 L341.29 828.79 L341.67 828.81 L342.05 828.83 L342.42 828.85 L342.80 828.87 L343.18 828.88 L343.56 828.90 L343.94 828.92 L344.31 828.94 L344.69 828.95 L345.07 828.97 L345.45 828.98 L345.83 829.00 L346.20 829.02 L346.58 829.03 L346.96 829.05 L347.34 829.06 L347.72 829.08 L348.09 829.09 L348.47 829.10 L348.85 829.12 L349.23 829.13 L349.61 829.15 L349.99 829.16 L350.36 829.17 L350.74 829.19 L351.12 829.20 L351.50 829.21 L351.88 829.22 L352.25 829.24 L352.63 829.25 L353.01 829.26 L353.39 829.27 L353.77 829.28 L354.14 829.29 L354.52 829.31 L354.90 829.32 L355.28 829.33 L355.66 829.34 L356.04 829.35 L356.41 829.36 L356.79 829.37 L357.17 829.38 L357.55 829.39 L357.93 829.40 L358.30 829.41 L358.68 829.42 L359.06 829.43 L359.44 829.44 L359.82 829.45 L360.19 829.46 L360.57 829.47 L360.95 829.48 L361.33 829.48 L361.71 829.49 L362.08 829.50 L362.46 829.51 L362.84 829.52 L363.22 829.53 L363.60 829.53 L363.98 829.54 L364.35 829.55 L364.73 829.56 L365.11 829.57 L365.49 829.57 L365.87 829.58 L366.24 829.59 L366.62 829.60 L367.00 829.60 L367.38 829.61 L367.76 829.62 L368.13 829.62 L368.51 829.63 L368.89 829.64 L369.27 829.64 L369.65 829.65 L370.03 829.66 L370.40 829.66 L370.78 829.67 L371.16 829.68 L371.54 829.68 L371.92 829.69 L372.29 829.70 L372.67 829.70 L373.05 829.71 L373.43 829.71 L373.81 829.72 L374.18 829.72 L374.56 829.73 L374.94 829.74 L375.32 829.74 L375.70 829.75 L376.08 829.75 L376.45 829.76 L376.83 829.76 L377.21 829.77 L377.59 829.77 L377.97 829.78 L378.34 829.78 L378.72 829.79 L379.10 829.79" stroke="#ff8000" stroke-width="3.1"/>
</g>
<g clip-path="url(#cc)" fill="none" stroke-width="3.2" stroke-linejoin="round">
<path d="M379.10 827.24 L379.47 827.23 L379.85 827.21 L380.22 827.19 L380.59 827.17 L380.96 827.15 L381.34 827.13 L381.71 827.11 L382.08 827.09 L382.45 827.07 L382.83 827.05 L383.20 827.03 L383.57 827.01 L383.94 826.99 L384.32 826.97 L384.69 826.95 L385.06 826.93 L385.44 826.91 L385.81 826.88 L386.18 826.86 L386.55 826.84 L386.93 826.82 L387.30 826.80 L387.67 826.78 L388.04 826.75 L388.42 826.73 L388.79 826.71 L389.16 826.69 L389.53 826.66 L389.91 826.64 L390.28 826.62 L390.65 826.59 L391.03 826.57 L391.40 826.55 L391.77 826.52 L392.14 826.50 L392.52 826.47 L392.89 826.45 L393.26 826.43 L393.63 826.40 L394.01 826.38 L394.38 826.35 L394.75 826.33 L395.13 826.30 L395.50 826.27 L395.87 826.25 L396.24 826.22 L396.62 826.20 L396.99 826.17 L397.36 826.14 L397.73 826.12 L398.11 826.09 L398.48 826.06 L398.85 826.04 L399.22 826.01 L399.60 825.98 L399.97 825.95 L400.34 825.92 L400.72 825.89 L401.09 825.87 L401.46 825.84 L401.83 825.81 L402.21 825.78 L402.58 825.75 L402.95 825.72 L403.32 825.69 L403.70 825.66 L404.07 825.63 L404.44 825.60 L404.81 825.56 L405.19 825.53 L405.56 825.50 L405.93 825.47 L406.31 825.44 L406.68 825.40 L407.05 825.37 L407.42 825.34 L407.80 825.31 L408.17 825.27 L408.54 825.24 L408.91 825.20 L409.29 825.17 L409.66 825.13 L410.03 825.10 L410.40 825.06 L410.78 825.03 L411.15 824.99 L411.52 824.96 L411.90 824.92 L412.27 824.88 L412.64 824.85 L413.01 824.81 L413.39 824.77 L413.76 824.73 L414.13 824.69 L414.50 824.65 L414.88 824.62 L415.25 824.58 L415.62 824.54 L415.99 824.50 L416.37 824.45 L416.74 824.41 L417.11 824.37 L417.49 824.33 L417.86 824.29 L418.23 824.25 L418.60 824.20 L418.98 824.16 L419.35 824.12 L419.72 824.07 L420.09 824.03 L420.47 823.98 L420.84 823.94 L421.21 823.89 L421.58 823.84 L421.96 823.80 L422.33 823.75 L422.70 823.70 L423.08 823.65 L423.45 823.61 L423.82 823.56 L424.19 823.51 L424.57 823.46 L424.94 823.41 L425.31 823.35 L425.68 823.30 L426.06 823.25 L426.43 823.20 L426.80 823.15 L427.18 823.09 L427.55 823.04 L427.92 822.98 L428.29 822.93 L428.67 822.87 L429.04 822.82 L429.41 822.76 L429.78 822.70 L430.16 822.64 L430.53 822.58 L430.90 822.52 L431.27 822.46 L431.65 822.40 L432.02 822.34 L432.39 822.28 L432.77 822.22 L433.14 822.15 L433.51 822.09 L433.88 822.03 L434.26 821.96 L434.63 821.89 L435.00 821.83 L435.37 821.76 L435.75 821.69 L436.12 821.62 L436.49 821.55 L436.86 821.48 L437.24 821.41 L437.61 821.34 L437.98 821.27 L438.36 821.19 L438.73 821.12 L439.10 821.04 L439.47 820.96 L439.85 820.89 L440.22 820.81 L440.59 820.73 L440.96 820.65 L441.34 820.57 L441.71 820.49 L442.08 820.40 L442.45 820.32 L442.83 820.23 L443.20 820.15 L443.57 820.06 L443.95 819.97 L444.32 819.88 L444.69 819.79 L445.06 819.70 L445.44 819.61 L445.81 819.52 L446.18 819.42 L446.55 819.33 L446.93 819.23 L447.30 819.13 L447.67 819.03 L448.04 818.93 L448.42 818.83 L448.79 818.72 L449.16 818.62 L449.54 818.51 L449.91 818.40 L450.28 818.29 L450.65 818.18 L451.03 818.07 L451.40 817.96 L451.77 817.84 L452.14 817.73 L452.52 817.61 L452.89 817.49 L453.26 817.37 L453.64 817.24 L454.01 817.12 L454.38 816.99 L454.75 816.86 L455.13 816.73 L455.50 816.60 L455.87 816.46 L456.24 816.33 L456.62 816.19 L456.99 816.05 L457.36 815.91 L457.73 815.76 L458.11 815.62 L458.48 815.47 L458.85 815.32 L459.23 815.17 L459.60 815.01 L459.97 814.85 L460.34 814.69 L460.72 814.53 L461.09 814.36 L461.46 814.20 L461.83 814.03 L462.21 813.85 L462.58 813.68 L462.95 813.50 L463.32 813.32 L463.70 813.13 L464.07 812.95 L464.44 812.76 L464.82 812.56 L465.00 811.78 L468.09 809.46 L471.18 807.53 L474.27 806.37 L476.58 803.28 L478.90 799.81 L480.44 799.42 L482.76 797.10 L484.31 793.63 L486.62 792.08 L488.17 787.84 L490.48 780.89 L492.03 777.03 L494.73 773.94 L495.89 767.76 L497.43 759.27 L498.98 750.00 L499.10 746.75 L499.47 744.48 L499.85 742.14 L500.22 739.72 L500.59 737.23 L500.96 734.66 L501.34 732.01 L501.71 729.29 L502.08 726.48 L502.46 723.60 L502.83 720.63 L503.20 717.58 L503.57 714.45 L503.95 711.24 L504.32 707.95 L504.69 704.58 L505.06 701.13 L505.44 697.61 L505.81 694.00 L506.18 690.32 L506.55 686.56 L506.93 682.73 L507.30 678.84 L507.67 674.88 L508.05 670.86 L508.42 666.78 L508.79 662.66 L509.16 658.50 L509.54 654.30 L509.91 650.08 L510.28 645.86 L510.65 641.64 L511.03 637.44 L511.40 633.28 L511.77 629.18 L512.15 625.18 L512.52 621.29 L512.60 620.00 L513.40 614.00 L514.30 608.50 L515.20 605.50 L516.00 608.50 L516.90 613.30 L517.70 611.00 L518.60 607.80 L519.40 607.60 L520.10 610.50 L520.80 615.50 L521.50 620.50 L521.83 628.84 L522.21 632.06 L522.58 635.42 L522.95 638.89 L523.33 642.46 L523.70 646.12 L524.07 649.85 L524.44 653.64 L524.82 657.48 L525.19 661.35 L525.56 665.23 L525.93 669.13 L526.31 673.02 L526.68 676.90 L527.05 680.76 L527.42 684.58 L527.80 688.37 L528.17 692.11 L528.54 695.80 L528.92 699.43 L529.29 702.99 L529.66 706.49 L530.03 709.92 L530.41 713.28 L530.78 716.56 L531.15 719.76 L531.52 722.89 L531.90 725.93 L532.27 728.90 L532.64 731.79 L533.01 734.59 L533.39 737.32 L533.76 739.97 L534.13 742.54 L534.51 745.04 L534.88 747.46 L535.25 749.81 L535.62 752.09 L536.00 754.29 L536.37 756.43 L536.74 758.50 L537.11 760.51 L537.49 762.45 L537.86 764.33 L538.23 766.15 L538.61 767.91 L538.98 769.61 L539.35 771.26 L539.72 772.86 L540.10 774.41 L540.47 775.90 L540.84 777.35 L541.21 778.75 L541.59 780.11 L541.96 781.43 L542.33 782.70 L542.70 783.93 L543.08 785.12 L543.45 786.28 L543.82 787.40 L544.20 788.48 L544.57 789.53 L544.94 790.55 L545.31 791.53 L545.69 792.49 L546.06 793.41 L546.43 794.31 L546.80 795.18 L547.18 796.03 L547.55 796.84 L547.92 797.64 L548.29 798.41 L548.67 799.16 L549.04 799.88 L549.41 800.59 L549.79 801.27 L550.16 801.94 L550.53 802.58 L550.90 803.21 L551.28 803.82 L551.65 804.41 L552.02 804.98 L552.39 805.54 L552.77 806.08 L553.14 806.61 L553.51 807.13 L553.88 807.62 L554.26 808.11 L554.63 808.58 L555.00 809.04 L555.38 809.49 L555.75 809.93 L556.12 810.35 L556.49 810.77 L556.87 811.17 L557.24 811.56 L557.61 811.94 L557.98 812.31 L558.36 812.68 L558.73 813.03 L559.10 813.38 L559.47 813.71 L559.85 814.04 L560.22 814.36 L560.59 814.67 L560.97 814.98 L561.34 815.27 L561.71 815.56 L562.08 815.85 L562.46 816.12 L562.83 816.39 L563.20 816.66 L563.57 816.91 L563.95 817.16 L564.32 817.41 L564.69 817.65 L565.06 817.88 L565.44 818.11 L565.81 818.34 L566.18 818.56 L566.56 818.77 L566.93 818.98 L567.30 819.18 L567.67 819.38 L568.05 819.58 L568.42 819.77 L568.79 819.96 L569.16 820.14 L569.54 820.32 L569.91 820.50 L570.28 820.67 L570.66 820.84 L571.03 821.00 L571.40 821.16 L571.77 821.32 L572.15 821.48 L572.52 821.63 L572.89 821.78 L573.26 821.92 L573.64 822.06 L574.01 822.20 L574.38 822.34 L574.75 822.48 L575.13 822.61 L575.50 822.74 L575.87 822.86 L576.25 822.99 L576.62 823.11 L576.99 823.23 L577.36 823.35 L577.74 823.46 L578.11 823.58 L578.48 823.69 L578.85 823.79 L579.23 823.90 L579.60 824.01 L579.97 824.11 L580.34 824.21 L580.72 824.31 L581.09 824.41 L581.46 824.50 L581.84 824.60 L582.21 824.69 L582.58 824.78 L582.95 824.87 L583.33 824.96 L583.70 825.04 L584.07 825.13 L584.44 825.21 L584.82 825.29 L585.19 825.37 L585.56 825.45 L585.93 825.53 L586.31 825.60 L586.68 825.68 L587.05 825.75 L587.43 825.82 L587.80 825.90 L588.17 825.97 L588.54 826.03 L588.92 826.10 L589.29 826.17 L589.66 826.23 L590.03 826.30 L590.41 826.36 L590.78 826.42 L591.15 826.49 L591.52 826.55 L591.90 826.61 L592.27 826.67 L592.64 826.72 L593.02 826.78 L593.39 826.84 L593.76 826.89 L594.13 826.95 L594.51 827.00 L594.88 827.05 L595.25 827.10 L595.62 827.15 L596.00 827.20 L596.37 827.25 L596.74 827.30 L597.12 827.35 L597.49 827.40 L597.86 827.44 L598.23 827.49 L598.61 827.54 L598.98 827.58 L599.35 827.62 L599.72 827.67 L600.10 827.71 L600.47 827.75 L600.84 827.79 L601.21 827.84 L601.59 827.88 L601.96 827.92 L602.33 827.95 L602.71 827.99 L603.08 828.03 L603.45 828.07 L603.82 828.11 L604.20 828.14 L604.57 828.18 L604.94 828.22 L605.31 828.25 L605.69 828.28 L606.06 828.32 L606.43 828.35 L606.80 828.39 L607.18 828.42 L607.55 828.45 L607.92 828.48 L608.30 828.52 L608.67 828.55 L609.04 828.58 L609.41 828.61 L609.79 828.64 L610.16 828.67 L610.53 828.70 L610.90 828.72 L611.28 828.75 L611.65 828.78 L612.02 828.81 L612.39 828.84 L612.77 828.86 L613.14 828.89 L613.51 828.92 L613.89 828.94 L614.26 828.97 L614.63 828.99 L615.00 829.02 L615.38 829.04 L615.75 829.07 L616.12 829.09 L616.49 829.12 L616.87 829.14 L617.24 829.16 L617.61 829.19 L617.98 829.21 L618.36 829.23 L618.73 829.25 L619.10 829.28 L619.48 829.30 L619.85 829.32 L620.22 829.34 L620.59 829.36 L620.97 829.38 L621.34 829.40 L621.71 829.42 L622.08 829.44 L622.46 829.46 L622.83 829.48 L623.20 829.50 L623.57 829.52 L623.95 829.54 L624.32 829.56 L624.69 829.58 L625.07 829.60 L625.44 829.61 L625.81 829.63 L626.18 829.65 L626.56 829.67 L626.93 829.68 L627.30 829.70 L627.67 829.72 L628.05 829.73 L628.42 829.75 L628.79 829.77 L629.17 829.78 L629.54 829.80 L629.91 829.82 L630.28 829.83 L630.66 829.85 L631.03 829.86 L631.40 829.88 L631.77 829.89 L632.15 829.91 L632.52 829.92 L632.89 829.94 L633.26 829.95 L633.64 829.96 L634.01 829.98 L634.38 829.99 L634.76 830.01 L635.13 830.02 L635.50 830.03 L635.87 830.05 L636.25 830.06 L636.62 830.07 L636.99 830.09 L637.36 830.10 L637.74 830.11 L638.11 830.12 L638.48 830.14 L638.85 830.15 L639.23 830.16 L639.60 830.17" stroke="#000"/>
<path d="M379.10 829.37 L379.47 829.37 L379.85 829.37 L380.22 829.37 L380.59 829.37 L380.96 829.37 L381.34 829.37 L381.71 829.37 L382.08 829.37 L382.45 829.37 L382.83 829.37 L383.20 829.37 L383.57 829.36 L383.94 829.36 L384.32 829.36 L384.69 829.36 L385.06 829.36 L385.44 829.36 L385.81 829.36 L386.18 829.36 L386.55 829.36 L386.93 829.36 L387.30 829.36 L387.67 829.36 L388.04 829.36 L388.42 829.36 L388.79 829.35 L389.16 829.35 L389.53 829.35 L389.91 829.35 L390.28 829.35 L390.65 829.35 L391.03 829.35 L391.40 829.35 L391.77 829.35 L392.14 829.35 L392.52 829.35 L392.89 829.35 L393.26 829.35 L393.63 829.34 L394.01 829.34 L394.38 829.34 L394.75 829.34 L395.13 829.34 L395.50 829.34 L395.87 829.34 L396.24 829.34 L396.62 829.34 L396.99 829.34 L397.36 829.34 L397.73 829.33 L398.11 829.33 L398.48 829.33 L398.85 829.33 L399.22 829.33 L399.60 829.33 L399.97 829.33 L400.34 829.33 L400.72 829.33 L401.09 829.33 L401.46 829.32 L401.83 829.32 L402.21 829.32 L402.58 829.32 L402.95 829.32 L403.32 829.32 L403.70 829.32 L404.07 829.32 L404.44 829.32 L404.81 829.32 L405.19 829.31 L405.56 829.31 L405.93 829.31 L406.31 829.31 L406.68 829.31 L407.05 829.31 L407.42 829.31 L407.80 829.31 L408.17 829.31 L408.54 829.30 L408.91 829.30 L409.29 829.30 L409.66 829.30 L410.03 829.30 L410.40 829.30 L410.78 829.30 L411.15 829.30 L411.52 829.29 L411.90 829.29 L412.27 829.29 L412.64 829.29 L413.01 829.29 L413.39 829.29 L413.76 829.29 L414.13 829.29 L414.50 829.28 L414.88 829.28 L415.25 829.28 L415.62 829.28 L415.99 829.28 L416.37 829.28 L416.74 829.28 L417.11 829.27 L417.49 829.27 L417.86 829.27 L418.23 829.27 L418.60 829.27 L418.98 829.27 L419.35 829.26 L419.72 829.26 L420.09 829.26 L420.47 829.26 L420.84 829.26 L421.21 829.26 L421.58 829.26 L421.96 829.25 L422.33 829.25 L422.70 829.25 L423.08 829.25 L423.45 829.25 L423.82 829.24 L424.19 829.24 L424.57 829.24 L424.94 829.24 L425.31 829.24 L425.68 829.24 L426.06 829.23 L426.43 829.23 L426.80 829.23 L427.18 829.23 L427.55 829.23 L427.92 829.22 L428.29 829.22 L428.67 829.22 L429.04 829.22 L429.41 829.22 L429.78 829.21 L430.16 829.21 L430.53 829.21 L430.90 829.21 L431.27 829.21 L431.65 829.20 L432.02 829.20 L432.39 829.20 L432.77 829.20 L433.14 829.19 L433.51 829.19 L433.88 829.19 L434.26 829.19 L434.63 829.19 L435.00 829.18 L435.37 829.18 L435.75 829.18 L436.12 829.18 L436.49 829.17 L436.86 829.17 L437.24 829.17 L437.61 829.17 L437.98 829.16 L438.36 829.16 L438.73 829.16 L439.10 829.15 L439.47 829.15 L439.85 829.15 L440.22 829.15 L440.59 829.14 L440.96 829.14 L441.34 829.14 L441.71 829.13 L442.08 829.13 L442.45 829.13 L442.83 829.13 L443.20 829.12 L443.57 829.12 L443.95 829.12 L444.32 829.11 L444.69 829.11 L445.06 829.11 L445.44 829.10 L445.81 829.10 L446.18 829.10 L446.55 829.09 L446.93 829.09 L447.30 829.09 L447.67 829.08 L448.04 829.08 L448.42 829.07 L448.79 829.07 L449.16 829.07 L449.54 829.06 L449.91 829.06 L450.28 829.06 L450.65 829.05 L451.03 829.05 L451.40 829.04 L451.77 829.04 L452.14 829.03 L452.52 829.03 L452.89 829.03 L453.26 829.02 L453.64 829.02 L454.01 829.01 L454.38 829.01 L454.75 829.00 L455.13 829.00 L455.50 828.99 L455.87 828.99 L456.24 828.98 L456.62 828.98 L456.99 828.97 L457.36 828.97 L457.73 828.96 L458.11 828.96 L458.48 828.95 L458.85 828.95 L459.23 828.94 L459.60 828.93 L459.97 828.93 L460.34 828.92 L460.72 828.92 L461.09 828.91 L461.46 828.90 L461.83 828.90 L462.21 828.89 L462.58 828.88 L462.95 828.88 L463.32 828.87 L463.70 828.86 L464.07 828.86 L464.44 828.85 L464.82 828.84 L465.19 828.84 L465.56 828.83 L465.93 828.82 L466.31 828.81 L466.68 828.80 L467.05 828.80 L467.42 828.79 L467.80 828.78 L468.17 828.77 L468.54 828.76 L468.91 828.75 L469.29 828.74 L469.66 828.73 L470.03 828.72 L470.41 828.71 L470.78 828.70 L471.15 828.69 L471.52 828.68 L471.90 828.67 L472.27 828.66 L472.64 828.65 L473.01 828.64 L473.39 828.63 L473.76 828.62 L474.13 828.60 L474.50 828.59 L474.88 828.58 L475.25 828.57 L475.62 828.55 L476.00 828.54 L476.37 828.53 L476.74 828.51 L477.11 828.50 L477.49 828.48 L477.86 828.47 L478.23 828.45 L478.60 828.44 L478.98 828.42 L479.35 828.40 L479.72 828.39 L480.09 828.37 L480.47 828.35 L480.84 828.33 L481.21 828.31 L481.59 828.30 L481.96 828.28 L482.33 828.26 L482.70 828.24 L483.08 828.21 L483.45 828.19 L483.82 828.17 L484.19 828.15 L484.57 828.13 L484.94 828.10 L485.31 828.08 L485.69 828.05 L486.06 828.03 L486.43 828.00 L486.80 827.98 L487.18 827.95 L487.55 827.92 L487.92 827.90 L488.29 827.87 L488.67 827.84 L489.04 827.81 L489.41 827.78 L489.78 827.75 L490.16 827.71 L490.53 827.68 L490.90 827.65 L491.28 827.61 L491.65 827.58 L492.02 827.54 L492.39 827.51 L492.77 827.47 L493.14 827.43 L493.51 827.39 L493.88 827.35 L494.26 827.31 L494.63 827.27 L495.00 827.23 L495.37 827.19 L495.75 827.14 L496.12 827.10 L496.49 827.05 L496.87 827.01 L497.24 826.96 L497.61 826.91 L497.98 826.86 L498.36 826.81 L498.73 826.76 L499.10 826.71 L499.47 826.66 L499.85 826.60 L500.22 826.55 L500.59 826.49 L500.96 826.44 L501.34 826.38 L501.71 826.32 L502.08 826.26 L502.46 826.20 L502.83 826.14 L503.20 826.08 L503.57 826.01 L503.95 825.95 L504.32 825.89 L504.69 825.82 L505.06 825.75 L505.44 825.69 L505.81 825.62 L506.18 825.55 L506.55 825.48 L506.93 825.41 L507.30 825.34 L507.67 825.27 L508.05 825.20 L508.42 825.12 L508.79 825.05 L509.16 824.97 L509.54 824.90 L509.91 824.82 L510.28 824.75 L510.65 824.67 L511.03 824.60 L511.40 824.52 L511.77 824.44 L512.15 824.37 L512.52 824.29 L512.89 824.21 L513.26 824.14 L513.64 824.06 L514.01 823.98 L514.38 823.91 L514.75 823.83 L515.13 823.76 L515.50 823.68 L515.87 823.61 L516.24 823.54 L516.62 823.47 L516.99 823.40 L517.36 823.33 L517.74 823.26 L518.11 823.19 L518.48 823.13 L518.85 823.07 L519.23 823.01 L519.60 822.95 L519.97 822.89 L520.34 822.84 L520.72 822.79 L521.09 822.74 L521.46 822.69 L521.83 822.65 L522.21 822.61 L522.58 822.57 L522.95 822.54 L523.33 822.51 L523.70 822.48 L524.07 822.46 L524.44 822.44 L524.82 822.42 L525.19 822.41 L525.56 822.40 L525.93 822.39 L526.31 822.39 L526.68 822.39 L527.05 822.39 L527.42 822.39 L527.80 822.40 L528.17 822.40 L528.54 822.40 L528.92 822.41 L529.29 822.42 L529.66 822.43 L530.03 822.45 L530.41 822.46 L530.78 822.48 L531.15 822.51 L531.52 822.53 L531.90 822.56 L532.27 822.60 L532.64 822.64 L533.01 822.68 L533.39 822.73 L533.76 822.78 L534.13 822.84 L534.51 822.90 L534.88 822.97 L535.25 823.04 L535.62 823.12 L536.00 823.20 L536.37 823.28 L536.74 823.37 L537.11 823.46 L537.49 823.55 L537.86 823.65 L538.23 823.75 L538.61 823.86 L538.98 823.96 L539.35 824.07 L539.72 824.18 L540.10 824.29 L540.47 824.41 L540.84 824.52 L541.21 824.63 L541.59 824.75 L541.96 824.86 L542.33 824.98 L542.70 825.09 L543.08 825.20 L543.45 825.32 L543.82 825.43 L544.20 825.54 L544.57 825.64 L544.94 825.75 L545.31 825.86 L545.69 825.96 L546.06 826.06 L546.43 826.16 L546.80 826.26 L547.18 826.35 L547.55 826.44 L547.92 826.53 L548.29 826.62 L548.67 826.71 L549.04 826.79 L549.41 826.87 L549.79 826.95 L550.16 827.03 L550.53 827.10 L550.90 827.17 L551.28 827.24 L551.65 827.31 L552.02 827.37 L552.39 827.44 L552.77 827.50 L553.14 827.56 L553.51 827.62 L553.88 827.67 L554.26 827.73 L554.63 827.78 L555.00 827.83 L555.38 827.88 L555.75 827.93 L556.12 827.97 L556.49 828.01 L556.87 828.06 L557.24 828.10 L557.61 828.14 L557.98 828.18 L558.36 828.21 L558.73 828.25 L559.10 828.28 L559.47 828.32 L559.85 828.35 L560.22 828.38 L560.59 828.41 L560.97 828.44 L561.34 828.47 L561.71 828.50 L562.08 828.53 L562.46 828.55 L562.83 828.58 L563.20 828.60 L563.57 828.62 L563.95 828.65 L564.32 828.67 L564.69 828.69 L565.06 828.71 L565.44 828.73 L565.81 828.75 L566.18 828.77 L566.56 828.79 L566.93 828.80 L567.30 828.82 L567.67 828.84 L568.05 828.85 L568.42 828.87 L568.79 828.88 L569.16 828.90 L569.54 828.91 L569.91 828.93 L570.28 828.94 L570.66 828.95 L571.03 828.96 L571.40 828.98 L571.77 828.99 L572.15 829.00 L572.52 829.01 L572.89 829.02 L573.26 829.03 L573.64 829.04 L574.01 829.05 L574.38 829.06 L574.75 829.07 L575.13 829.08 L575.50 829.09 L575.87 829.10 L576.25 829.11 L576.62 829.11 L576.99 829.12 L577.36 829.13 L577.74 829.14 L578.11 829.15 L578.48 829.15 L578.85 829.16 L579.23 829.17 L579.60 829.17 L579.97 829.18 L580.34 829.19 L580.72 829.19 L581.09 829.20 L581.46 829.20 L581.84 829.21 L582.21 829.21 L582.58 829.22 L582.95 829.23 L583.33 829.23 L583.70 829.24 L584.07 829.24 L584.44 829.24 L584.82 829.25 L585.19 829.25 L585.56 829.26 L585.93 829.26 L586.31 829.27 L586.68 829.27 L587.05 829.28 L587.43 829.28 L587.80 829.28 L588.17 829.29 L588.54 829.29 L588.92 829.29 L589.29 829.30 L589.66 829.30 L590.03 829.30 L590.41 829.31 L590.78 829.31 L591.15 829.31 L591.52 829.32 L591.90 829.32 L592.27 829.32 L592.64 829.33 L593.02 829.33 L593.39 829.33 L593.76 829.33 L594.13 829.34 L594.51 829.34 L594.88 829.34 L595.25 829.34 L595.62 829.35 L596.00 829.35 L596.37 829.35 L596.74 829.35 L597.12 829.36 L597.49 829.36 L597.86 829.36 L598.23 829.36 L598.61 829.36 L598.98 829.37 L599.35 829.37 L599.72 829.37 L600.10 829.37 L600.47 829.37 L600.84 829.38 L601.21 829.38 L601.59 829.38 L601.96 829.38 L602.33 829.38 L602.71 829.39 L603.08 829.39 L603.45 829.39 L603.82 829.39 L604.20 829.39 L604.57 829.39 L604.94 829.39 L605.31 829.40 L605.69 829.40 L606.06 829.40 L606.43 829.40 L606.80 829.40 L607.18 829.40 L607.55 829.40 L607.92 829.41 L608.30 829.41 L608.67 829.41 L609.04 829.41 L609.41 829.41 L609.79 829.41 L610.16 829.41 L610.53 829.41 L610.90 829.41 L611.28 829.42 L611.65 829.42 L612.02 829.42 L612.39 829.42 L612.77 829.42 L613.14 829.42 L613.51 829.42 L613.89 829.42 L614.26 829.42 L614.63 829.43 L615.00 829.43 L615.38 829.43 L615.75 829.43 L616.12 829.43 L616.49 829.43 L616.87 829.43 L617.24 829.43 L617.61 829.43 L617.98 829.43 L618.36 829.43 L618.73 829.43 L619.10 829.44 L619.48 829.44 L619.85 829.44 L620.22 829.44 L620.59 829.44 L620.97 829.44 L621.34 829.44 L621.71 829.44 L622.08 829.44 L622.46 829.44 L622.83 829.44 L623.20 829.44 L623.57 829.44 L623.95 829.44 L624.32 829.44 L624.69 829.45 L625.07 829.45 L625.44 829.45 L625.81 829.45 L626.18 829.45 L626.56 829.45 L626.93 829.45 L627.30 829.45 L627.67 829.45 L628.05 829.45 L628.42 829.45 L628.79 829.45 L629.17 829.45 L629.54 829.45 L629.91 829.45 L630.28 829.45 L630.66 829.45 L631.03 829.45 L631.40 829.46 L631.77 829.46 L632.15 829.46 L632.52 829.46 L632.89 829.46 L633.26 829.46 L633.64 829.46 L634.01 829.46 L634.38 829.46 L634.76 829.46 L635.13 829.46 L635.50 829.46 L635.87 829.46 L636.25 829.46 L636.62 829.46 L636.99 829.46 L637.36 829.46 L637.74 829.46 L638.11 829.46 L638.48 829.46 L638.85 829.46 L639.23 829.46 L639.60 829.46" stroke="#ff8000" stroke-width="3.1"/>
</g>
<text transform="translate(105.20 600.30) scale(1 1.040)" font-size="30" text-anchor="end"> 2</text>
<text transform="translate(105.20 680.00) scale(1 1.040)" font-size="30" text-anchor="end">8</text>
<text transform="translate(105.20 759.70) scale(1 1.040)" font-size="30" text-anchor="end">4</text>
<text transform="translate(105.20 839.40) scale(1 1.040)" font-size="30" text-anchor="end">0</text>
<text transform="translate(648.50 630.50) scale(1 1.040)" font-size="30">3</text>
<text transform="translate(648.50 700.10) scale(1 1.040)" font-size="30">2</text>
<text transform="translate(648.50 769.70) scale(1 1.040)" font-size="30"> </text>
<text transform="translate(648.50 839.30) scale(1 1.040)" font-size="30">0</text>
<text transform="translate(115.50 862.90) scale(1 1.040)" font-size="30" text-anchor="middle"> .9</text>
<text transform="translate(247.20 862.90) scale(1 1.040)" font-size="30" text-anchor="middle">2.0</text>
<text transform="translate(379.00 862.90) scale(1 1.040)" font-size="30" text-anchor="middle">2. </text>
<text transform="translate(506.20 862.90) scale(1 1.040)" font-size="30" text-anchor="middle">2.0</text>
<text transform="translate(639.50 862.90) scale(1 1.040)" font-size="30" text-anchor="middle">2. </text>
<text transform="translate(166.50 899.30) scale(1 1.000)" font-size="30">Energy (eV)</text>
<text transform="translate(427.80 899.30) scale(1 1.000)" font-size="30">Energy (eV)</text>
<text transform="translate(48.1 888.0) rotate(-90)" font-size="25.2">Nor. PL intensity (arb. units)</text>
<text transform="translate(133.90 612.00) scale(1 1.000)" font-size="34" font-weight="bold">b</text>
<text transform="translate(395.40 611.60) scale(1 1.000)" font-size="34" font-weight="bold">c</text>
<text transform="translate(279.50 660.10) scale(1 1.000)" font-size="26.7">on hBN/Au</text>
<text transform="translate(132.60 785.70) scale(1 1.000)" font-size="26.7" fill="#ff7f00">on SiO<tspan font-size="16.5" dy="6.30">2</tspan></text>
<g fill="#000"><path transform="translate(76.28 83.90) scale(0.01318 -0.01318)" d="M763 0L583 0L583 1147Q518 1085 412.5 1023Q307 961 223 930L223 1104Q374 1175 485.5 1276Q597 1377 646 1472L763 1472Z"/><path transform="translate(76.28 242.00) scale(0.01318 -0.01318)" d="M763 0L583 0L583 1147Q518 1085 412.5 1023Q307 961 223 930L223 1104Q374 1175 485.5 1276Q597 1377 646 1472L763 1472Z"/><path transform="translate(76.28 400.10) scale(0.01318 -0.01318)" d="M763 0L583 0L583 1147Q518 1085 412.5 1023Q307 961 223 930L223 1104Q374 1175 485.5 1276Q597 1377 646 1472L763 1472Z"/><path transform="translate(160.00 458.30) scale(0.01318 -0.01318)" d="M763 0L583 0L583 1147Q518 1085 412.5 1023Q307 961 223 930L223 1104Q374 1175 485.5 1276Q597 1377 646 1472L763 1472Z"/><path transform="translate(191.03 444.50) scale(0.00723 -0.00723)" d="M763 0L583 0L583 1147Q518 1085 412.5 1023Q307 961 223 930L223 1104Q374 1175 485.5 1276Q597 1377 646 1472L763 1472Z"/><path transform="translate(271.05 458.30) scale(0.01318 -0.01318)" d="M763 0L583 0L583 1147Q518 1085 412.5 1023Q307 961 223 930L223 1104Q374 1175 485.5 1276Q597 1377 646 1472L763 1472Z"/><path transform="translate(302.08 444.50) scale(0.00723 -0.00723)" d="M763 0L583 0L583 1147Q518 1085 412.5 1023Q307 961 223 930L223 1104Q374 1175 485.5 1276Q597 1377 646 1472L763 1472Z"/><path transform="translate(382.10 458.30) scale(0.01318 -0.01318)" d="M763 0L583 0L583 1147Q518 1085 412.5 1023Q307 961 223 930L223 1104Q374 1175 485.5 1276Q597 1377 646 1472L763 1472Z"/><path transform="translate(413.13 444.50) scale(0.00723 -0.00723)" d="M763 0L583 0L583 1147Q518 1085 412.5 1023Q307 961 223 930L223 1104Q374 1175 485.5 1276Q597 1377 646 1472L763 1472Z"/><path transform="translate(493.15 458.30) scale(0.01318 -0.01318)" d="M763 0L583 0L583 1147Q518 1085 412.5 1023Q307 961 223 930L223 1104Q374 1175 485.5 1276Q597 1377 646 1472L763 1472Z"/><path transform="translate(604.20 458.30) scale(0.01318 -0.01318)" d="M763 0L583 0L583 1147Q518 1085 412.5 1023Q307 961 223 930L223 1104Q374 1175 485.5 1276Q597 1377 646 1472L763 1472Z"/><path transform="translate(643.46 444.50) scale(0.00723 -0.00723)" d="M763 0L583 0L583 1147Q518 1085 412.5 1023Q307 961 223 930L223 1104Q374 1175 485.5 1276Q597 1377 646 1472L763 1472Z"/><path transform="translate(520.66 483.90) scale(0.00757 -0.00757)" d="M763 0L583 0L583 1147Q518 1085 412.5 1023Q307 961 223 930L223 1104Q374 1175 485.5 1276Q597 1377 646 1472L763 1472Z"/><path transform="translate(71.83 600.30) scale(0.01465 -0.01465)" d="M763 0L583 0L583 1147Q518 1085 412.5 1023Q307 961 223 930L223 1104Q374 1175 485.5 1276Q597 1377 646 1472L763 1472Z"/><path transform="translate(648.50 769.70) scale(0.01465 -0.01465)" d="M763 0L583 0L583 1147Q518 1085 412.5 1023Q307 961 223 930L223 1104Q374 1175 485.5 1276Q597 1377 646 1472L763 1472Z"/><path transform="translate(94.65 862.90) scale(0.01465 -0.01465)" d="M763 0L583 0L583 1147Q518 1085 412.5 1023Q307 961 223 930L223 1104Q374 1175 485.5 1276Q597 1377 646 1472L763 1472Z"/><path transform="translate(383.17 862.90) scale(0.01465 -0.01465)" d="M763 0L583 0L583 1147Q518 1085 412.5 1023Q307 961 223 930L223 1104Q374 1175 485.5 1276Q597 1377 646 1472L763 1472Z"/><path transform="translate(643.67 862.90) scale(0.01465 -0.01465)" d="M763 0L583 0L583 1147Q518 1085 412.5 1023Q307 961 223 930L223 1104Q374 1175 485.5 1276Q597 1377 646 1472L763 1472Z"/></g>
</svg></body></html>
